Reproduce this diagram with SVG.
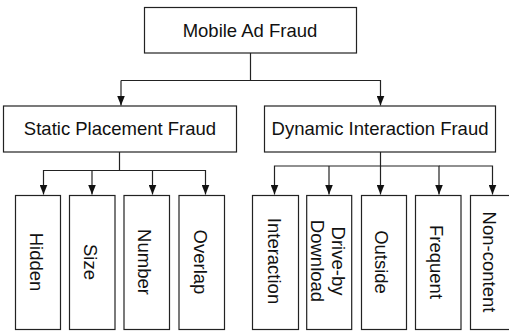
<svg xmlns="http://www.w3.org/2000/svg" width="509" height="333" viewBox="0 0 509 333">
<defs>
<style>
.box{fill:#fff;stroke:#222;stroke-width:1.2}
.t{font-family:"Liberation Sans",Arial,Helvetica,sans-serif;font-size:18.5px;fill:#111;text-anchor:middle}
.c{fill:none;stroke:#222;stroke-width:1.2}
</style>
<marker id="ah" viewBox="0 0 10 8" refX="10" refY="4" markerWidth="10" markerHeight="8" markerUnits="userSpaceOnUse" orient="auto">
<path d="M0,0 L10,4 L0,8 z" fill="#111"/>
</marker>
</defs>
<rect width="509" height="333" fill="#fff"/>
<g id="connectors">
<path class="c" d="M250.5,53 V80.5 H121"/>
<path class="c" d="M121,80.5 V105.5" marker-end="url(#ah)"/>
<path class="c" d="M250.5,80.5 H380.5 V105.5" marker-end="url(#ah)"/>
<path class="c" d="M119.5,152 V170.5 H43.5 V194.5" marker-end="url(#ah)"/>
<path class="c" d="M92,170.5 V194.5" marker-end="url(#ah)"/>
<path class="c" d="M119.5,170.5 H152.5 V194.5" marker-end="url(#ah)"/>
<path class="c" d="M152.5,170.5 H205.5 V194.5" marker-end="url(#ah)"/>
<path class="c" d="M380.5,152 V166 H274.5 V194.5" marker-end="url(#ah)"/>
<path class="c" d="M329,166 V194.5" marker-end="url(#ah)"/>
<path class="c" d="M380.5,166 V194.5" marker-end="url(#ah)"/>
<path class="c" d="M380.5,166 H439 V194.5" marker-end="url(#ah)"/>
<path class="c" d="M439,166 H492.5 V194.5" marker-end="url(#ah)"/>
</g>
<g id="root"><rect class="box" x="144.5" y="7.5" width="212" height="45.5"/><text class="t" x="250" y="36.7">Mobile Ad Fraud</text></g>
<g id="static"><rect class="box" x="3.5" y="106" width="233" height="46"/><text class="t" x="120" y="135">Static Placement Fraud</text></g>
<g id="dynamic"><rect class="box" x="264.5" y="106" width="231" height="46"/><text class="t" x="380" y="135">Dynamic Interaction Fraud</text></g>
<g id="hidden"><rect class="box" x="15.5" y="195.5" width="45" height="134"/><text class="t" transform="translate(30,262) rotate(90)">Hidden</text></g>
<g id="size"><rect class="box" x="69.5" y="195.5" width="45.5" height="134"/><text class="t" transform="translate(84,262) rotate(90)">Size</text></g>
<g id="number"><rect class="box" x="124" y="195.5" width="45.5" height="134"/><text class="t" transform="translate(138.3,262) rotate(90)">Number</text></g>
<g id="overlap"><rect class="box" x="179" y="195.5" width="45.5" height="134"/><text class="t" transform="translate(193.5,262) rotate(90)">Overlap</text></g>
<g id="interaction"><rect class="box" x="252.5" y="195.5" width="46" height="134"/><text class="t" transform="translate(268.3,261) rotate(90)">Interaction</text></g>
<g id="drive-by"><rect class="box" x="306.7" y="195.5" width="45" height="134"/><text class="t" transform="translate(331.7,261) rotate(90)">Drive-by</text><text class="t" transform="translate(311,261) rotate(90)">Download</text></g>
<g id="outside"><rect class="box" x="361.5" y="195.5" width="45" height="134"/><text class="t" transform="translate(375,262) rotate(90)">Outside</text></g>
<g id="frequent"><rect class="box" x="415.5" y="195.5" width="45.5" height="134"/><text class="t" transform="translate(430,262) rotate(90)">Frequent</text></g>
<g id="non-content"><rect class="box" x="470.5" y="195.5" width="46" height="134"/><text class="t" transform="translate(483.3,262) rotate(90)">Non-content</text></g>
</svg>
